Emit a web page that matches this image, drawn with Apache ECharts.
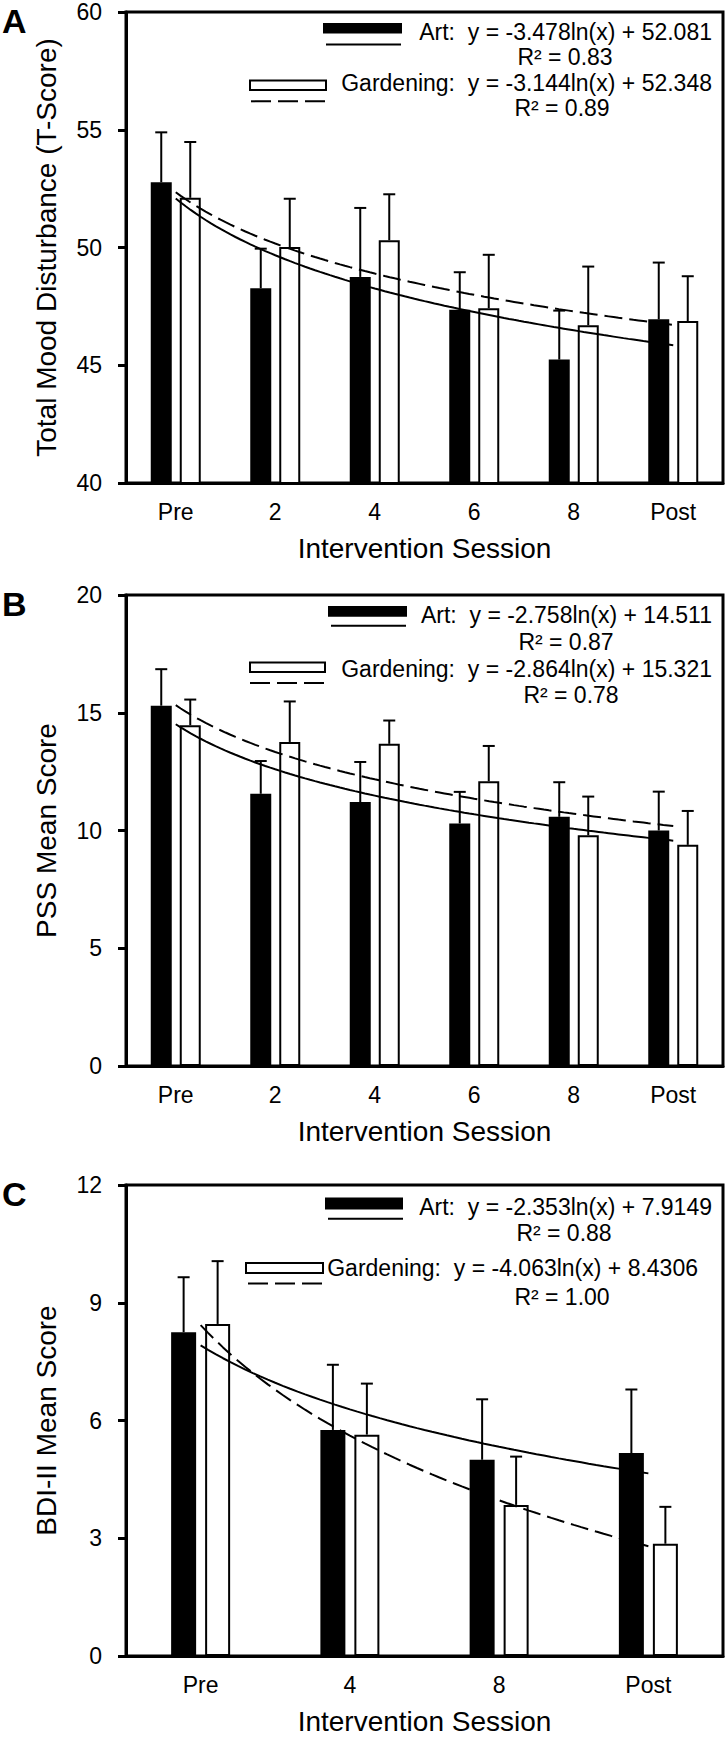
<!DOCTYPE html>
<html><head><meta charset="utf-8">
<script src="https://cdn.jsdelivr.net/npm/echarts@6/dist/echarts.min.js"></script>
<style>html,body{margin:0;padding:0;background:#fff}#c{width:727px;height:1739px}</style>
</head><body><div id="c"></div>
<script>
// ---------- DATA ----------
const catsAB = ['Pre', '2', '4', '6', '8', 'Post'];
const catsC = ['Pre', '4', '8', 'Post'];

const artA = [52.77, 48.27, 48.75, 47.36, 45.24, 46.95];
const artAErr = [2.12, 1.68, 2.93, 1.59, 2.08, 2.41];
const gardA = [52.11, 50.02, 50.31, 47.42, 46.70, 46.88];
const gardAErr = [2.37, 2.05, 1.95, 2.27, 2.49, 1.90];

const artB = [15.30, 11.56, 11.21, 10.30, 10.58, 10.00];
const artBErr = [1.55, 1.39, 1.70, 1.34, 1.47, 1.65];
const gardB = [14.47, 13.76, 13.68, 12.09, 9.80, 9.39];
const gardBErr = [1.09, 1.72, 0.99, 1.50, 1.64, 1.44];

const artC = [8.25, 5.76, 5.00, 5.17];
const artCErr = [1.40, 1.66, 1.54, 1.62];
const gardC = [8.46, 5.64, 3.85, 2.86];
const gardCErr = [1.60, 1.30, 1.23, 0.94];

// log trend-line coefficients [slope, intercept] as printed on the chart
const artFitA = [-3.478, 52.081];
const gardFitA = [-3.144, 52.348];
const artFitB = [-2.758, 14.511];
const gardFitB = [-2.864, 15.321];
const artFitC = [-2.353, 7.9149];
const gardFitC = [-4.063, 8.4306];

const eqA = ['Art:  y = -3.478ln(x) + 52.081', 'R² = 0.83', 'Gardening:  y = -3.144ln(x) + 52.348', 'R² = 0.89'];
const eqB = ['Art:  y = -2.758ln(x) + 14.511', 'R² = 0.87', 'Gardening:  y = -2.864ln(x) + 15.321', 'R² = 0.78'];
const eqC = ['Art:  y = -2.353ln(x) + 7.9149', 'R² = 0.88', 'Gardening:  y = -4.063ln(x) + 8.4306', 'R² = 1.00'];

const yTitles = ['Total Mood Disturbance (T-Score)', 'PSS Mean Score', 'BDI-II Mean Score'];
const xTitle = 'Intervention Session';
const panelLetters = ['A', 'B', 'C'];

// ---------- LAYOUT ----------
const FONT = "'Liberation Sans', Arial, sans-serif";
const panels = [
  {top: 12, cats: catsAB, ymin: 40, ymax: 60, step: 5, art: artA, artE: artAErr, gard: gardA, gardE: gardAErr,
   artFit: artFitA, gardFit: gardFitA, eq: eqA, barW: 21, gap: 8,
   lg: {br: [323, 11, 79, 10.6], sl: [326, 401, 32.6], t1: [712, 19.8], r1: [565, 45.3],
        wr: [250, 68.5, 76, 9.5], dl: [251, 325, 89.3], t2: [712, 71.3], r2: [562, 95.8]}},
  {top: 595, cats: catsAB, ymin: 0, ymax: 20, step: 5, art: artB, artE: artBErr, gard: gardB, gardE: gardBErr,
   artFit: artFitB, gardFit: gardFitB, eq: eqB, barW: 21, gap: 8,
   lg: {br: [328, 11, 79, 10.8], sl: [331, 406, 30.7], t1: [712, 20], r1: [566, 46.8],
        wr: [250, 67.5, 75, 9.5], dl: [250, 324, 88], t2: [712, 73.6], r2: [571, 100.4]}},
  {top: 1185, cats: catsC, ymin: 0, ymax: 12, step: 3, art: artC, artE: artCErr, gard: gardC, gardE: gardCErr,
   artFit: artFitC, gardFit: gardFitC, eq: eqC, barW: 25, gap: 9,
   lg: {br: [325, 12.5, 78, 12], sl: [328, 403, 33.8], t1: [712, 21.5], r1: [564, 48],
        wr: [246, 78, 77, 10], dl: [248, 323, 98.5], t2: [698, 83], r2: [562, 111.6]}}
];
const GRID_LEFT = 126, GRID_W = 597, GRID_H = 471;

const grids = [], xAxes = [], yAxes = [], series = [], graphics = [];

function trend(fit, n) {
  const pts = [];
  for (let x = 1; x <= n + 1e-9; x += 0.05) pts.push([x, fit[0] * Math.log(x) + fit[1]]);
  return pts;
}

function errRender(offset) {
  return function (params, api) {
    const i = api.value(0);
    const b = api.coord([i, api.value(1)]);
    const t = api.coord([i, api.value(2)]);
    const x = b[0] + offset;
    return {type: 'group', children: [
      {type: 'line', shape: {x1: x, y1: b[1], x2: x, y2: t[1]}, style: {stroke: '#000', lineWidth: 2}},
      {type: 'line', shape: {x1: x - 6, y1: t[1], x2: x + 6, y2: t[1]}, style: {stroke: '#000', lineWidth: 2}}
    ]};
  };
}

panels.forEach((p, k) => {
  grids.push({left: GRID_LEFT, top: p.top, width: GRID_W, height: GRID_H, show: true,
    borderColor: '#000', borderWidth: 3, backgroundColor: 'transparent'});
  const n = p.cats.length;
  xAxes.push({type: 'category', gridIndex: k, data: p.cats, boundaryGap: true,
    axisLine: {lineStyle: {color: '#000', width: 3}},
    axisTick: {alignWithLabel: true, length: 6, lineStyle: {color: '#000', width: 2}},
    axisLabel: {color: '#000', fontSize: 23, fontFamily: FONT, margin: 17},
    name: xTitle, nameLocation: 'middle', nameGap: 51,
    nameTextStyle: {color: '#000', fontSize: 28, fontFamily: FONT}});
  xAxes.push({type: 'value', gridIndex: k, min: 0.5, max: n + 0.5, show: false});
  yAxes.push({type: 'value', gridIndex: k, min: p.ymin, max: p.ymax, interval: p.step,
    axisLine: {show: true, lineStyle: {color: '#000', width: 3}},
    axisTick: {show: true, length: 8, lineStyle: {color: '#000', width: 3}},
    axisLabel: {color: '#000', fontSize: 23, fontFamily: FONT, margin: 24},
    splitLine: {show: false},
    name: yTitles[k], nameLocation: 'middle', nameGap: 66, nameRotate: 90,
    nameTextStyle: {color: '#000', fontSize: 28, fontFamily: FONT}});
  const xc = k * 2, xv = k * 2 + 1;
  const off = (p.barW + p.gap) / 2;
  series.push({type: 'bar', name: 'Art', xAxisIndex: xc, yAxisIndex: k, data: p.art,
    barWidth: p.barW, barGap: (p.gap / p.barW * 100) + '%',
    itemStyle: {color: '#000'}, z: 2, silent: true});
  series.push({type: 'bar', name: 'Gardening', xAxisIndex: xc, yAxisIndex: k, data: p.gard,
    barWidth: p.barW, barGap: (p.gap / p.barW * 100) + '%',
    itemStyle: {color: '#fff', borderColor: '#000', borderWidth: 2}, z: 2, silent: true});
  series.push({type: 'custom', xAxisIndex: xc, yAxisIndex: k, renderItem: errRender(-off),
    data: p.art.map((v, i) => [i, v, v + p.artE[i]]), z: 3, silent: true});
  series.push({type: 'custom', xAxisIndex: xc, yAxisIndex: k, renderItem: errRender(off),
    data: p.gard.map((v, i) => [i, v, v + p.gardE[i]]), z: 3, silent: true});
  series.push({type: 'line', xAxisIndex: xv, yAxisIndex: k, data: trend(p.artFit, n), showSymbol: false,
    symbol: 'none', lineStyle: {color: '#000', width: 2}, z: 4, silent: true});
  series.push({type: 'line', xAxisIndex: xv, yAxisIndex: k, data: trend(p.gardFit, n), showSymbol: false,
    symbol: 'none', lineStyle: {color: '#000', width: 2, type: [18, 7]}, z: 4, silent: true});

  // legend / equations
  const T = p.top, L = p.lg;
  graphics.push({type: 'rect', shape: {x: L.br[0], y: T + L.br[1], width: L.br[2], height: L.br[3]}, style: {fill: '#000'}});
  graphics.push({type: 'line', shape: {x1: L.sl[0], y1: T + L.sl[2], x2: L.sl[1], y2: T + L.sl[2]}, style: {stroke: '#000', lineWidth: 2}});
  graphics.push({type: 'rect', shape: {x: L.wr[0], y: T + L.wr[1], width: L.wr[2], height: L.wr[3]}, style: {fill: '#fff', stroke: '#000', lineWidth: 2}});
  graphics.push({type: 'line', shape: {x1: L.dl[0], y1: T + L.dl[2], x2: L.dl[1], y2: T + L.dl[2]}, style: {stroke: '#000', lineWidth: 2, lineDash: [20, 7]}});
  const txt = (s, pos, align) => ({type: 'text', x: pos[0], y: T + pos[1],
    style: {text: s, fill: '#000', font: '23px ' + FONT, align: align, verticalAlign: 'middle'}});
  graphics.push(txt(p.eq[0], L.t1, 'right'));
  graphics.push(txt(p.eq[1], L.r1, 'center'));
  graphics.push(txt(p.eq[2], L.t2, 'right'));
  graphics.push(txt(p.eq[3], L.r2, 'center'));
  graphics.push({type: 'text', x: 2, y: T - 8,
    style: {text: panelLetters[k], fill: '#000', font: 'bold 34px ' + FONT, lineHeight: 34,
      align: 'left', verticalAlign: 'top'}});
});

const chart = echarts.init(document.getElementById('c'), null, {renderer: 'svg'});
chart.setOption({
  animation: false,
  backgroundColor: '#fff',
  grid: grids, xAxis: xAxes, yAxis: yAxes, series: series, graphic: graphics
});
</script>
</body></html>
